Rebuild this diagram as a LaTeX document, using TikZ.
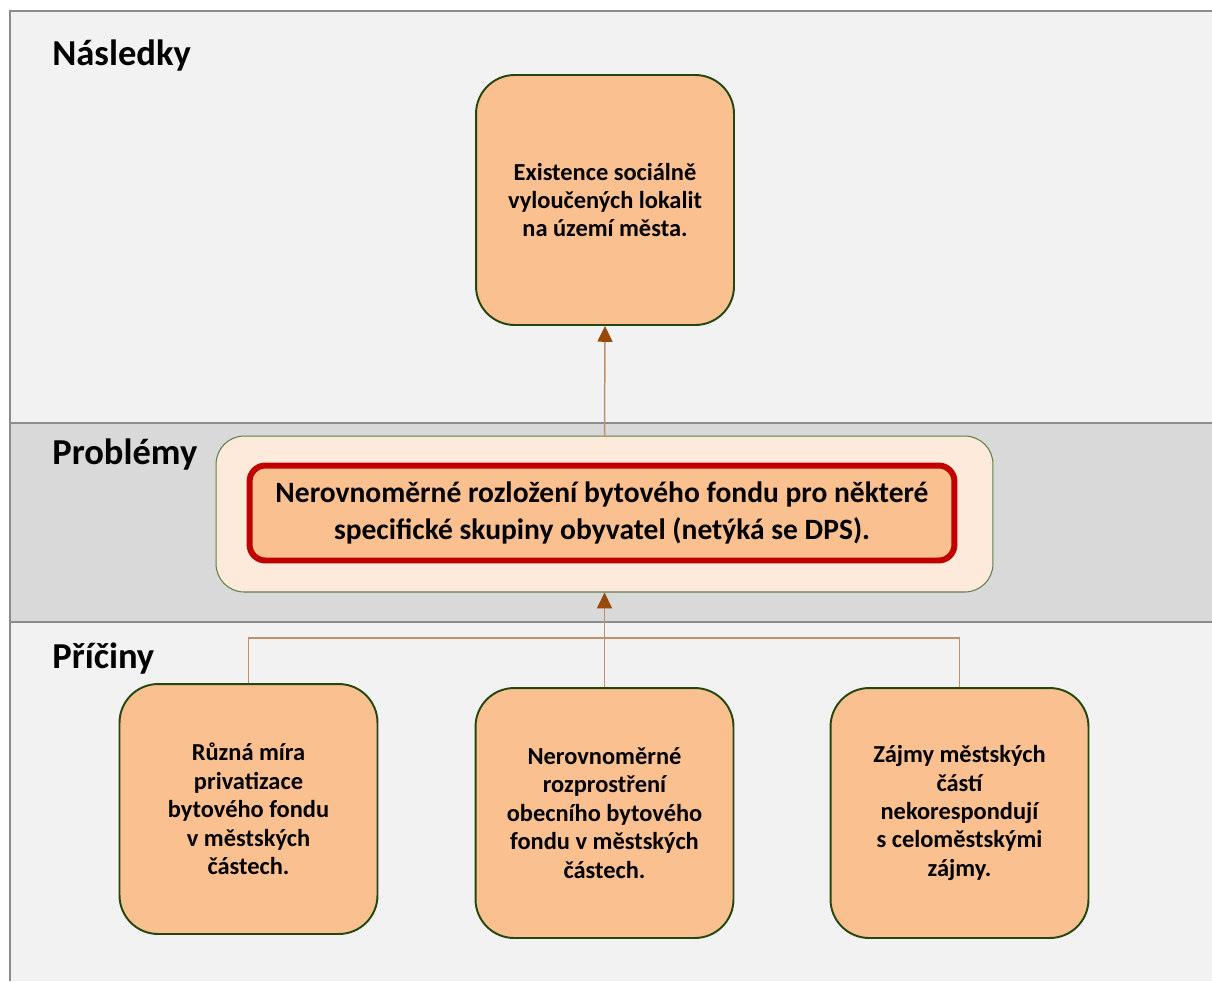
\documentclass[tikz,border=0pt]{standalone}
\usepackage{fontspec}
\setmainfont{Carlito}
\usetikzlibrary{arrows.meta}
\definecolor{paneback}{HTML}{F2F2F2}
\definecolor{bandback}{HTML}{D9D9D9}
\definecolor{frameline}{HTML}{8C8C8C}
\definecolor{boxfill}{HTML}{FAC090}
\definecolor{boxline}{HTML}{23470F}
\definecolor{probfill}{HTML}{FDEADA}
\definecolor{probline}{HTML}{5E7F4A}
\definecolor{probred}{HTML}{C00000}
\definecolor{linkline}{HTML}{C0906A}
\definecolor{linktip}{HTML}{984807}
\begin{document}
\begin{tikzpicture}[x=.02cm,y=-.02cm,
  causebox/.style={draw=boxline,line width=1.1pt,fill=boxfill,rounded corners=22pt,
    minimum width=5.16cm,minimum height=5cm,align=center,
    font=\bfseries\fontsize{13.9}{16.2}\selectfont},
  heading/.style={anchor=base west,inner sep=0pt,font=\bfseries\fontsize{20.8}{24}\selectfont},
  link/.style={draw=linkline,line width=.85pt},
  arr/.style={link,-{Triangle[width=8.5pt,length=9pt,color=linktip]}}]
  \useasboundingbox (0,0) rectangle (1212,981);
  % panes
  \fill[white] (0,0) rectangle (1212,981);
  \fill[paneback] (10,11) rectangle (1212,981);
  \fill[bandback] (10,423) rectangle (1212,622);
  \draw[frameline,line width=1.1pt] (10,981) -- (10,11) -- (1212,11);
  \draw[frameline,line width=1.1pt] (10,423) -- (1212,423) (10,622) -- (1212,622);
  \node[heading] (hnas) at (52,65) {Následky};
  \node[heading] (hpro) at (52,464) {Problémy};
  \node[heading] (hpri) at (52,668) {Příčiny};
  % boxes
  \node[causebox] (cons) at (605,200) {Existence sociálně\\vyloučených lokalit\\na území města.};
  \node[draw=probline,line width=.6pt,fill=probfill,rounded corners=16pt,
    minimum width=15.54cm,minimum height=3.12cm] (prob) at (604.5,514) {};
  \node[draw=probred,line width=3.4pt,fill=boxfill,rounded corners=9pt,
    minimum width=14.1cm,minimum height=1.9cm,align=center,
    font=\bfseries\fontsize{16.8}{21}\selectfont] (core) at (602,513)
    {Nerovnoměrné rozložení bytového fondu pro některé\\specifické skupiny obyvatel (netýká se DPS).};
  \node[causebox] (c1) at (248.5,809) {Různá míra\\privatizace\\bytového fondu\\v městských\\částech.};
  \node[causebox] (c2) at (604.5,813) {Nerovnoměrné\\rozprostření\\obecního bytového\\fondu v městských\\částech.};
  \node[causebox] (c3) at (959.5,813) {Zájmy městských\\částí\\nekorespondují\\s celoměstskými\\zájmy.};
  % links
  \coordinate (bar) at (604.5,638);
  \draw[link] (c1.north) |- (bar) -| (c3.north);
  \draw[arr] (c2.north) -- (prob.south);
  \draw[arr] (prob.north) -- (cons.south);
\end{tikzpicture}
\end{document}
